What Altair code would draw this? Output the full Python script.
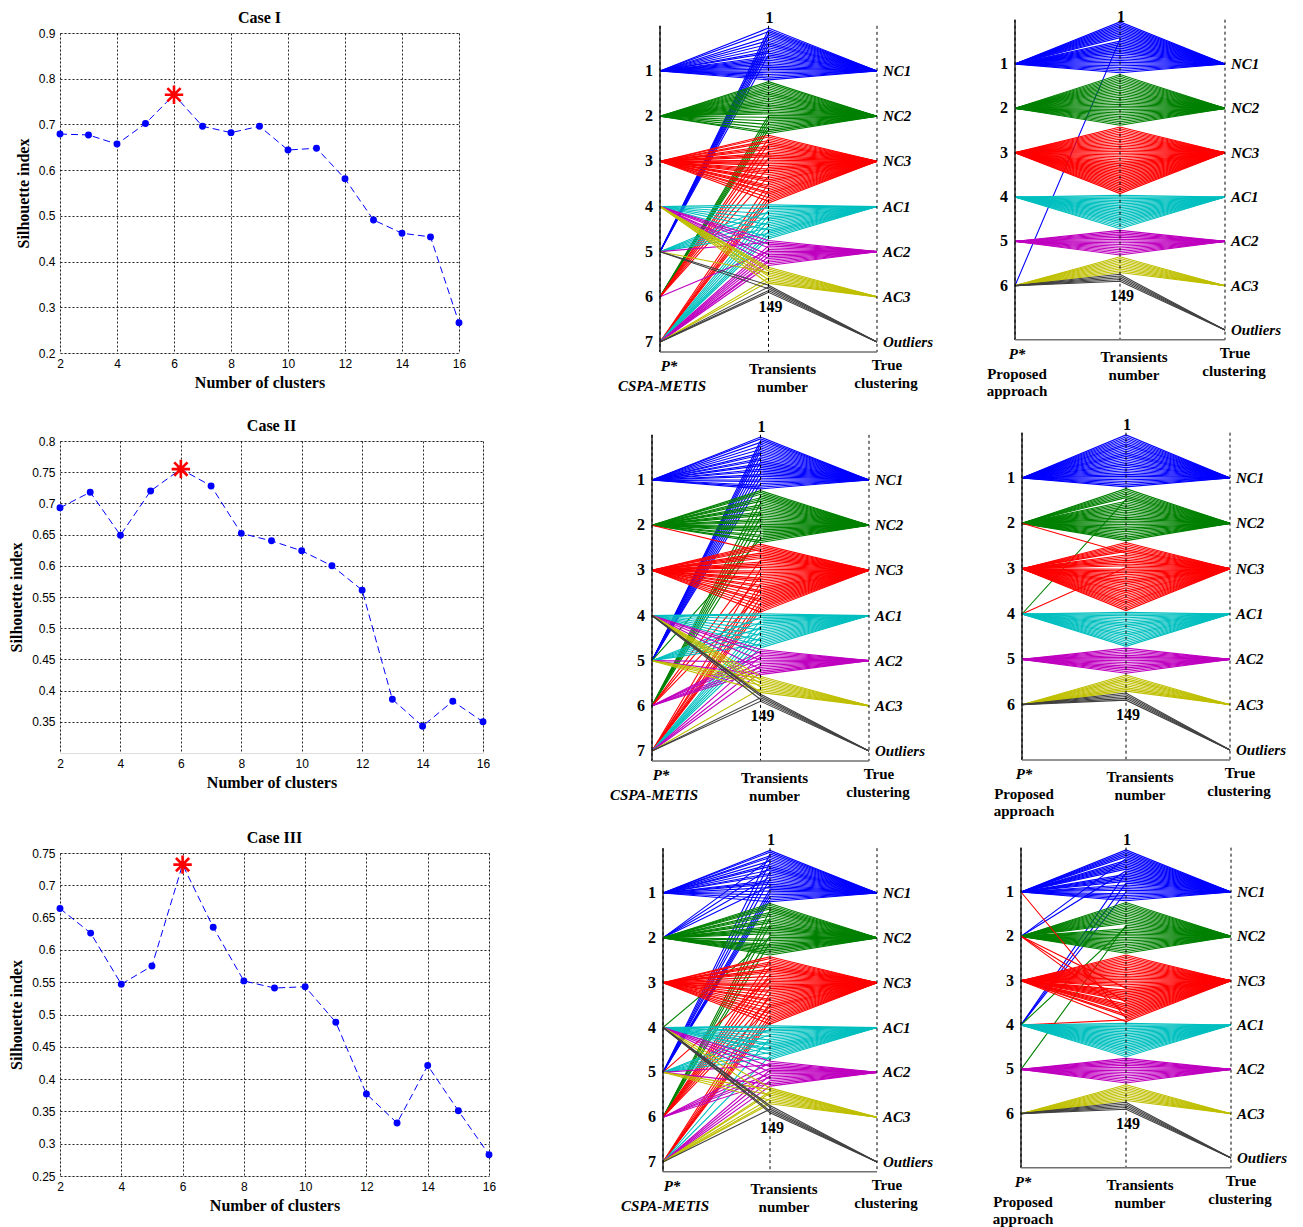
import altair as alt
import pandas as pd

# ---------------- data ----------------
clusters = list(range(2, 17))
sil_case1 = [0.679, 0.677, 0.657, 0.702, 0.765, 0.696, 0.682, 0.696, 0.644, 0.648, 0.581, 0.491, 0.462, 0.454, 0.266]
sil_case2 = [0.693, 0.718, 0.649, 0.720, 0.755, 0.728, 0.652, 0.640, 0.624, 0.600, 0.561, 0.386, 0.343, 0.383, 0.350]
sil_case3 = [0.664, 0.626, 0.547, 0.575, 0.732, 0.635, 0.552, 0.541, 0.543, 0.488, 0.377, 0.332, 0.421, 0.351, 0.283]
case_titles = ["Case I", "Case II", "Case III"]
y_domains = [[0.2, 0.9], [0.3, 0.8], [0.25, 0.75]]
y_ticks = [
    [0.2, 0.3, 0.4, 0.5, 0.6, 0.7, 0.8, 0.9],
    [0.35, 0.4, 0.45, 0.5, 0.55, 0.6, 0.65, 0.7, 0.75, 0.8],
    [0.25, 0.3, 0.35, 0.4, 0.45, 0.5, 0.55, 0.6, 0.65, 0.7, 0.75],
]
x_ticks = [2, 4, 6, 8, 10, 12, 14, 16]

true_names = ["NC1", "NC2", "NC3", "AC1", "AC2", "AC3", "Outliers"]
true_sizes = [30, 30, 39, 20, 15, 10, 5]
class_colors = ["#0000ff", "#008000", "#ff0000", "#00bfbf", "#bf00bf", "#bfbf00", "#404040"]
n_transients = 149

# P* cluster assigned to each transient, grouped by true cluster (transients in order)
cspa_case1 = [
    [1, 5, 1, 5, 5, 1, 5, 1, 5, 1, 5, 1, 5, 1, 1, 5, 1, 1, 1, 1, 1, 1, 1, 1, 1, 1, 1, 1, 1, 1],
    [2, 2, 2, 2, 2, 2, 2, 2, 2, 2, 2, 2, 2, 2, 2, 2, 2, 2, 2, 6, 2, 6, 2, 6, 2, 6, 2, 6, 2, 2],
    [3, 3, 6, 3, 3, 6, 3, 3, 3, 6, 3, 3, 3, 6, 3, 3, 3, 3, 6, 3, 3, 3, 3, 6, 3, 3, 3, 7, 3, 3,
     3, 7, 3, 3, 7, 3, 7, 3, 7],
    [4, 5, 4, 7, 5, 4, 7, 5, 4, 7, 5, 4, 7, 5, 4, 7, 5, 7, 4, 7],
    [4, 5, 4, 7, 4, 7, 6, 7, 4, 7, 4, 7, 7, 4, 7],
    [4, 4, 4, 5, 4, 4, 7, 4, 7, 4],
    [5, 7, 5, 7, 7],
]
cspa_case2 = [
    [1, 1, 5, 1, 5, 1, 5, 1, 5, 1, 1, 5, 1, 1, 5, 1, 1, 5, 1, 1, 5, 1, 1, 5, 1, 1, 5, 1, 1, 1],
    [2, 2, 2, 6, 2, 2, 2, 6, 2, 2, 2, 6, 2, 2, 2, 6, 2, 2, 2, 6, 2, 2, 2, 2, 6, 2, 2, 5, 2, 2],
    [3, 3, 3, 3, 2, 3, 3, 3, 3, 6, 3, 3, 3, 3, 7, 3, 3, 3, 6, 3, 3, 3, 7, 3, 3, 7, 3, 3, 6, 3,
     7, 3, 3, 7, 3, 7, 3, 7, 3],
    [4, 4, 5, 4, 7, 5, 4, 7, 5, 4, 7, 5, 4, 7, 5, 4, 7, 5, 4, 7],
    [4, 6, 4, 6, 7, 6, 4, 5, 6, 7, 6, 4, 6, 7, 5],
    [4, 5, 4, 5, 4, 5, 4, 7, 5, 4],
    [4, 4, 7, 4, 7],
]
cspa_case3 = [
    [1, 1, 5, 1, 1, 2, 1, 5, 1, 1, 2, 1, 5, 1, 1, 2, 5, 1, 1, 1, 2, 1, 5, 1, 5, 1, 5, 1, 5, 1],
    [2, 2, 2, 2, 6, 2, 2, 2, 6, 2, 2, 2, 6, 2, 2, 2, 2, 2, 6, 4, 2, 2, 6, 2, 2, 2, 2, 2, 2, 2],
    [3, 3, 6, 3, 3, 3, 6, 3, 3, 3, 6, 3, 5, 3, 6, 3, 3, 3, 6, 3, 3, 7, 3, 6, 3, 3, 7, 3, 6, 3,
     7, 3, 3, 7, 3, 7, 3, 7, 3],
    [4, 4, 5, 4, 4, 5, 4, 7, 4, 5, 4, 4, 5, 4, 4, 5, 4, 7, 5, 4],
    [4, 6, 5, 4, 6, 7, 4, 6, 7, 6, 4, 7, 6, 5, 7],
    [4, 5, 7, 7, 5, 4, 7, 5, 7, 7],
    [4, 4, 7, 4, 4],
]
prop_case1 = [
    [1] * 10 + [6] + [1] * 19,
    [2] * 30,
    [3] * 39,
    [4] * 20,
    [5] * 15,
    [6] * 10,
    [6] * 5,
]
prop_case2 = [
    [1] * 30,
    [2] * 6 + [4] + [2] * 23,
    [3] * 6 + [2] + [3] * 7 + [4] + [3] * 24,
    [4] * 20,
    [5] * 15,
    [6] * 10,
    [6] * 5,
]
prop_case3 = [
    [1] * 5 + [2] + [1] * 6 + [2, 4] + [1] * 5 + [4] + [1] * 4 + [4] + [1] * 5,
    [2] * 13 + [5, 4] + [2] * 15,
    [3] * 19 + [2] + [3] * 7 + [2] + [3] * 5 + [2] + [3] * 2 + [1, 4] + [3],
    [4] * 20,
    [5] * 15,
    [6] * 10,
    [6] * 5,
]

# ---------------- layout (page pixels) ----------------
SERIF = "Liberation Serif"
SANS = "Liberation Sans"
BLUE = "#0000ff"
STAR = "M0,-1L0,1M-1,0L1,0M-0.72,-0.72L0.72,0.72M-0.72,0.72L0.72,-0.72"

COL_X = [60, 489, 879]
COL_W = [None, 390, 360]
ROW_Y = [33, 441, 853]
ROW_H = [408, 412, 330]
LINE_W = [399, 423, 429]
LINE_H = [320, 312, 323]
# (left axis x, right axis x, node-1 y, node-7 y) for each ranking panel
GEO_MID = [(660, 877, 71, 342), (652, 869, 480, 751), (663, 877, 893, 1162)]
GEO_RIGHT = [(1015, 1225, 64, 330), (1022, 1230, 478, 750), (1021, 1231, 892, 1158)]
TOP_DY_MID = [-10, -10, -10]
TOP_DY_RIGHT = [-5, -10, -10]

T_FIRST, T_LAST = 0.05, 5.9
AXIS_TOP, AXIS_BOTTOM = 0.0, 7.22
TPOS = f"{T_FIRST} + (datum.t - 1) * {T_LAST - T_FIRST} / {n_transients - 1}"


def sil_chart(values, title, ydom, yticks, W, H):
    s = pd.Series(values)
    df = pd.DataFrame({"k": clusters, "s": values, "best": s == s.max()})
    xs = alt.Scale(domain=[2, 16], nice=False, zero=False)
    ys = alt.Scale(domain=ydom, nice=False, zero=False)
    common = dict(grid=True, gridDash=[2, 2], gridColor="black", gridWidth=1, gridOpacity=0.85,
                  ticks=False, domain=False, labelFont=SANS, labelFontSize=12, labelColor="black",
                  labelFlush=False, labelOverlap=False, titleFont=SERIF, titleFontSize=16,
                  titleFontWeight="bold", titleColor="black")
    xax = alt.Axis(values=x_ticks, labelPadding=5, title="Number of clusters", titlePadding=5, **common)
    yax = alt.Axis(values=yticks, format=".2~f", labelPadding=5, title="Silhouette index",
                   titlePadding=7, **common)
    base = alt.Chart(df).encode(x=alt.X("k:Q", scale=xs, axis=xax), y=alt.Y("s:Q", scale=ys, axis=yax))
    line = base.mark_line(color=BLUE, strokeWidth=1, strokeDash=[7, 4])
    pts = base.mark_point(filled=True, size=48, color=BLUE, opacity=1)
    star = base.transform_filter(alt.datum.best).mark_point(
        shape=STAR, size=340, filled=False, stroke="#ff0000", strokeWidth=2.6, opacity=1)
    return alt.layer(line, pts, star).properties(
        width=W, height=H,
        title=alt.TitleParams(text=title, font=SERIF, fontSize=16, fontWeight="bold",
                              color="black", offset=1),
    )


def ranking_df(assign):
    rows = []
    t = 0
    for c, lst in enumerate(assign):
        for a in lst:
            t += 1
            rows.append(dict(t=t, stage=0, node=a, cls=true_names[c]))
            rows.append(dict(t=t, stage=1, node=0, cls=true_names[c]))
            rows.append(dict(t=t, stage=2, node=c + 1, cls=true_names[c]))
    return pd.DataFrame(rows)


def ranking_panel(assign, n_left, method, method_italic, geo, C, R, W, H, top_dy):
    Lx, Rx, N1, N7 = geo
    sx = (Rx - Lx) / 2.0
    xa = -(Lx - C) / sx
    xb = xa + W / sx
    sy = (N7 - N1) / 6.0
    ya = 1 - (N1 - R) / sy
    yb = ya + H / sy
    xs = alt.Scale(domain=[xa, xb], nice=False, zero=False)
    ys = alt.Scale(domain=[ya, yb], nice=False, zero=False, reverse=True)
    X = lambda f: alt.X(f, scale=xs, axis=None)
    Y = lambda f: alt.Y(f, scale=ys, axis=None)

    lines = alt.Chart(ranking_df(assign)).transform_calculate(
        yv=f"datum.stage == 1 ? {TPOS} : datum.node"
    ).mark_line(strokeWidth=1.1).encode(
        x=X("stage:Q"), y=Y("yv:Q"), detail="t:N", order="stage:Q",
        color=alt.Color("cls:N", scale=alt.Scale(domain=true_names, range=class_colors), legend=None),
    )
    left_axis = alt.Chart(pd.DataFrame({"ax": [0], "y0": [AXIS_TOP], "y1": [AXIS_BOTTOM]})).mark_rule(
        color="#202020", strokeWidth=1.5).encode(x=X("ax:Q"), y=Y("y0:Q"), y2="y1:Q")
    dash_axes = alt.Chart(pd.DataFrame({"ax": [0, 1, 2], "y0": [AXIS_TOP] * 3, "y1": [AXIS_BOTTOM] * 3})).mark_rule(
        color="black", strokeWidth=1, strokeDash=[3, 3]).encode(x=X("ax:Q"), y=Y("y0:Q"), y2="y1:Q")
    bottom = alt.Chart(pd.DataFrame({"x0": [0], "x1": [2], "y": [AXIS_BOTTOM]})).mark_rule(
        color="#707070", strokeWidth=1.5).encode(x=X("x0:Q"), x2="x1:Q", y=Y("y:Q"))

    def txt(rows, **kw):
        return alt.Chart(pd.DataFrame(rows)).mark_text(font=SERIF, fontWeight="bold", color="black", **kw).encode(
            x=X("x:Q"), y=Y("y:Q"), text="label:N")

    left_lab = txt({"x": [0] * n_left, "y": list(range(1, n_left + 1)),
                    "label": [str(i) for i in range(1, n_left + 1)]},
                   fontSize=16, align="right", baseline="middle", dx=-7)
    right_lab = txt({"x": [2] * 7, "y": list(range(1, 8)), "label": true_names},
                    fontSize=15, fontStyle="italic", align="left", baseline="middle", dx=6)
    ends = pd.DataFrame({"t": [1, n_transients], "x": [1, 1], "label": ["1", str(n_transients)]})
    first = alt.Chart(ends).transform_filter(alt.datum.t == 1).transform_calculate(y=TPOS).mark_text(
        font=SERIF, fontWeight="bold", fontSize=16, color="black", baseline="middle", dy=top_dy, dx=1
    ).encode(x=X("x:Q"), y=Y("y:Q"), text="label:N")
    last = alt.Chart(ends).transform_filter(alt.datum.t == n_transients).transform_calculate(y=TPOS).mark_text(
        font=SERIF, fontWeight="bold", fontSize=16, color="black", baseline="middle", dy=15, dx=2
    ).encode(x=X("x:Q"), y=Y("y:Q"), text="label:N")

    yb_ = [AXIS_BOTTOM]
    caps = [
        txt({"x": [0], "y": yb_, "label": ["P*"]}, fontSize=15, fontStyle="italic", baseline="middle",
            dx=(9 if method_italic else 2), dy=14),
        txt({"x": [1], "y": yb_, "label": ["Transients"]}, fontSize=15, baseline="middle", dx=14, dy=17),
        txt({"x": [1], "y": yb_, "label": ["number"]}, fontSize=15, baseline="middle", dx=14, dy=35),
        txt({"x": [2], "y": yb_, "label": ["True"]}, fontSize=15, baseline="middle", dx=10, dy=13),
        txt({"x": [2], "y": yb_, "label": ["clustering"]}, fontSize=15, baseline="middle", dx=9, dy=31),
    ]
    for i, line in enumerate(method):
        kw = dict(fontStyle="italic") if method_italic else {}
        caps.append(txt({"x": [0], "y": yb_, "label": [line]}, fontSize=15, baseline="middle",
                        dx=2, dy=34 + 17 * i, **kw))

    return alt.layer(lines, left_axis, dash_axes, bottom, left_lab, right_lab, first, last, *caps).properties(
        width=W, height=H, view=alt.ViewBackground(stroke="transparent"))


sil_all = [sil_case1, sil_case2, sil_case3]
cspa_all = [cspa_case1, cspa_case2, cspa_case3]
prop_all = [prop_case1, prop_case2, prop_case3]

panels = []
for r in range(3):
    panels.append(sil_chart(sil_all[r], case_titles[r], y_domains[r], y_ticks[r], LINE_W[r], LINE_H[r]))
    panels.append(ranking_panel(cspa_all[r], 7, ["CSPA-METIS"], True, GEO_MID[r],
                                COL_X[1], ROW_Y[r], COL_W[1], ROW_H[r], TOP_DY_MID[r]))
    panels.append(ranking_panel(prop_all[r], 6, ["Proposed", "approach"], False, GEO_RIGHT[r],
                                COL_X[2], ROW_Y[r], COL_W[2], ROW_H[r], TOP_DY_RIGHT[r]))

chart = alt.concat(*panels, columns=3, spacing=0, bounds="flush", align="each").properties(
    padding={"left": 0, "top": 0, "right": 0, "bottom": 0}
).configure_view(stroke="black", strokeWidth=1).configure(font=SERIF)

chart.save("out.html", embed_options={"renderer": "svg", "actions": False})
